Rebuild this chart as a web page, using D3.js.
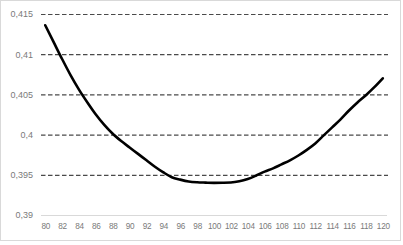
<!DOCTYPE html>
<html>
<head>
<meta charset="utf-8">
<script src="https://cdn.jsdelivr.net/npm/d3@7"></script>
<style>
  html, body { margin: 0; padding: 0; background: #fff; }
  svg { display: block; font-family: Calibri, "Liberation Sans", Arial, sans-serif; }
  .tick text { fill: #7a7a7a; }
</style>
</head>
<body>
<svg id="chart" width="403" height="245"></svg>
<script>
"use strict";

// categories (every integer 80..120), labels shown every 2
const categories = [80, 81, 82, 83, 84, 85, 86, 87, 88, 89, 90, 91, 92, 93, 94, 95, 96, 97, 98, 99, 100,
    101, 102, 103, 104, 105, 106, 107, 108, 109, 110, 111, 112, 113, 114, 115, 116, 117, 118, 119, 120];
// values
const values = [0.4136, 0.4115, 0.4094, 0.4074, 0.4056, 0.4040, 0.4025, 0.4012, 0.4001, 0.3992, 0.3984,
    0.3976, 0.3968, 0.3960, 0.3953, 0.3947, 0.3944, 0.39417, 0.39407, 0.39403, 0.39400,
    0.39401, 0.39404, 0.39419, 0.39448, 0.39491, 0.3954, 0.3958, 0.3963, 0.3968, 0.3974,
    0.3981, 0.3989, 0.3999, 0.4009, 0.4019, 0.4030, 0.4040, 0.4049, 0.4059, 0.4070];
const xTickLabels = [80, 82, 84, 86, 88, 90, 92, 94, 96, 98, 100, 102, 104, 106, 108, 110, 112, 114, 116, 118, 120];
const yTicks = [0.39, 0.395, 0.4, 0.405, 0.41, 0.415];

const svg = d3.select("#chart");

// рамка диаграммы
svg.append("rect")
    .attr("x", 0.5).attr("y", 0.5)
    .attr("width", 400).attr("height", 240)
    .attr("fill", "#fff")
    .attr("stroke", "#d9d9d9");

const plot = { left: 41, right: 387, top: 14, bottom: 215 };

const x = d3.scalePoint()
    .domain(categories)
    .range([plot.left, plot.right])
    .padding(0.5);

const y = d3.scaleLinear()
    .domain([0.39, 0.415])
    .range([plot.bottom, plot.top]);

const fmt = d3.formatLocale({ decimal: ",", thousands: " ", grouping: [3], currency: ["", ""] }).format("~g");

// сетка по Y
const yAxis = svg.append("g")
    .attr("transform", `translate(${plot.left},0)`)
    .call(d3.axisLeft(y).tickValues(yTicks).tickSize(0).tickPadding(8).tickFormat(fmt));
yAxis.select(".domain").remove();
yAxis.selectAll(".tick text").attr("font-size", "9px");
yAxis.selectAll(".tick")
    .filter(d => d > 0.39)
    .append("line")
    .attr("x1", 0).attr("x2", plot.right - plot.left + 1)
    .attr("stroke", "#4a4a4a")
    .attr("stroke-width", 1.2)
    .attr("stroke-dasharray", "4.5,2.5");

// ось X
svg.append("line")
    .attr("x1", plot.left).attr("x2", plot.right)
    .attr("y1", plot.bottom + 0.5).attr("y2", plot.bottom + 0.5)
    .attr("stroke", "#d9d9d9");

const xAxis = svg.append("g")
    .attr("transform", `translate(0,${plot.bottom})`)
    .call(d3.axisBottom(x).tickValues(xTickLabels).tickSize(0).tickPadding(8));
xAxis.select(".domain").remove();
xAxis.selectAll(".tick text")
    .attr("font-size", "8.2px")
    .attr("letter-spacing", "-0.25px");

// кривая
const line = d3.line()
    .x((d, i) => x(categories[i]))
    .y(d => y(d))
    .curve(d3.curveMonotoneX);

svg.append("path")
    .datum(values)
    .attr("d", line)
    .attr("fill", "none")
    .attr("stroke", "#000")
    .attr("stroke-width", 2.6)
    .attr("stroke-linejoin", "round")
    .attr("stroke-linecap", "round");
</script>
</body>
</html>
